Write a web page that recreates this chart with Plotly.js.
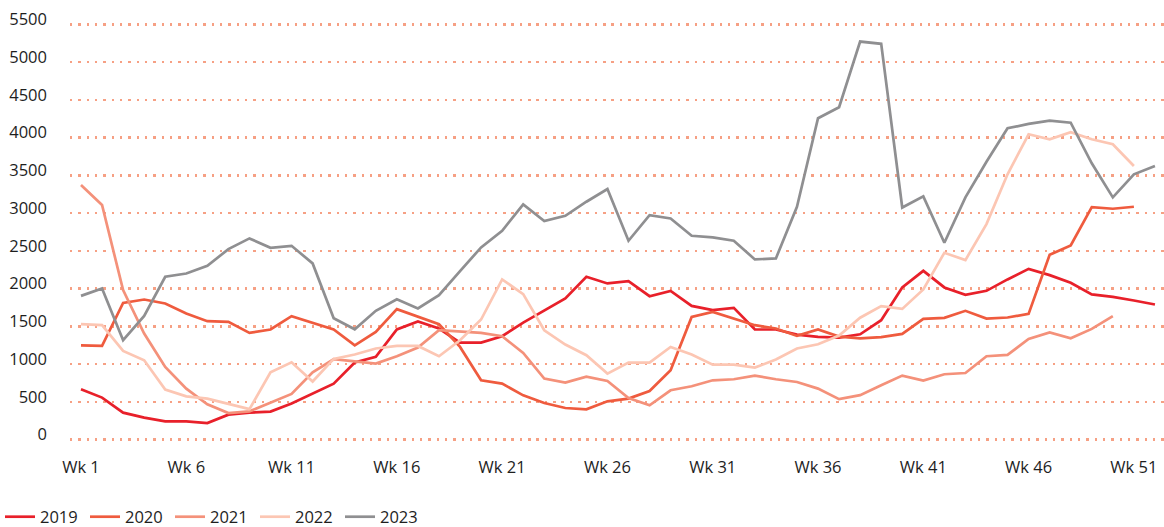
<!DOCTYPE html>
<html>
<head>
<meta charset="utf-8">
<script src="https://cdn.plot.ly/plotly-3.0.1.min.js"></script>
<style>
html,body{margin:0;padding:0;background:#fff;}
#chart{width:1164px;height:527px;}
</style>
</head>
<body>
<div id="chart"></div>
<script>
const weeks = Array.from({length: 52}, (_, i) => i + 1);
const tickWeeks = [1, 6, 11, 16, 21, 26, 31, 36, 41, 46, 51];
const tickLabels = ["Wk 1", "Wk 6", "Wk 11", "Wk 16", "Wk 21", "Wk 26", "Wk 31", "Wk 36", "Wk 41", "Wk 46", "Wk 51"];
const yTicks = [0, 500, 1000, 1500, 2000, 2500, 3000, 3500, 4000, 4500, 5000, 5500];

const s2019 = [667, 557, 358, 292, 243, 243, 220, 331, 358, 372, 480, 612, 742, 1021, 1096, 1459, 1565, 1472, 1286, 1286,
  1370, 1551, 1714, 1870, 2157, 2069, 2099, 1900, 1970, 1772, 1715, 1745, 1459, 1459, 1392, 1361, 1352, 1396, 1582, 2016,
  2236, 2016, 1918, 1971, 2122, 2262, 2179, 2077, 1923, 1891, 1843, 1790];
const s2020 = [1250, 1241, 1811, 1856, 1803, 1671, 1569, 1560, 1414, 1459, 1635, 1551, 1460, 1250, 1427, 1728, 1626, 1529, 1228, 786,
  742, 587, 485, 419, 402, 508, 544, 645, 919, 1626, 1692, 1604, 1516, 1472, 1374, 1459, 1365, 1341, 1357, 1401,
  1600, 1613, 1706, 1604, 1618, 1666, 2448, 2572, 3080, 3058, 3084];
const s2021 = [3372, 3107, 1980, 1406, 963, 676, 468, 353, 375, 486, 605, 892, 1065, 1038, 1008, 1105, 1220, 1449, 1427, 1414,
  1370, 1148, 809, 756, 835, 777, 552, 455, 654, 707, 786, 800, 848, 800, 764, 676, 536, 590, 720, 848,
  782, 866, 883, 1105, 1122, 1334, 1419, 1343, 1467, 1635];
const s2022 = [1529, 1516, 1175, 1052, 663, 574, 544, 477, 405, 892, 1025, 770, 1070, 1127, 1207, 1241, 1241, 1105, 1317, 1591,
  2122, 1927, 1449, 1260, 1118, 875, 1021, 1021, 1228, 1127, 994, 994, 955, 1061, 1207, 1264, 1380, 1615, 1768, 1732,
  1989, 2475, 2378, 2855, 3514, 4044, 3978, 4071, 3978, 3912, 3624];
const s2023 = [1904, 2002, 1317, 1639, 2157, 2201, 2302, 2523, 2665, 2541, 2567, 2334, 1608, 1462, 1706, 1860, 1737, 1913, 2232, 2546,
  2766, 3116, 2895, 2965, 3151, 3319, 2634, 2974, 2930, 2700, 2678, 2634, 2387, 2400, 3084, 4256, 4402, 5272, 5242, 3074,
  3222, 2607, 3209, 3681, 4124, 4181, 4225, 4198, 3660, 3209, 3514, 3624];

const seriesNames = ["2019", "2020", "2021", "2022", "2023"];
const seriesData = [s2019, s2020, s2021, s2022, s2023];
const seriesColors = ["#e8202a", "#ef5b3e", "#f4917a", "#fcc6b3", "#8f8f91"];

const traces = seriesData.map((vals, i) => ({
  type: "scatter",
  mode: "lines",
  name: seriesNames[i],
  x: weeks.slice(0, vals.length),
  y: vals,
  line: {color: seriesColors[i], width: 2.7},
  hoverinfo: "x+y+name"
}));

const layout = {
  width: 1164,
  height: 527,
  margin: {l: 70, r: 0, t: 13, b: 76},
  paper_bgcolor: "#ffffff",
  plot_bgcolor: "#ffffff",
  font: {family: "Open Sans, Noto Sans, sans-serif", size: 16.5, color: "#1e1e1e"},
  showlegend: true,
  legend: {
    orientation: "h",
    xref: "container",
    yref: "container",
    x: 0,
    xanchor: "left",
    y: 0.019,
    yanchor: "middle",
    font: {size: 16.5, color: "#1e1e1e"},
    itemwidth: 30,
    entrywidth: 40,
    entrywidthmode: "pixels",
    tracegroupgap: 0
  },
  xaxis: {
    range: [0.478, 52.43],
    tickmode: "array",
    tickvals: tickWeeks,
    ticktext: tickLabels,
    showgrid: false,
    zeroline: false,
    showline: false,
    ticks: "",
    ticklabelstandoff: 4,
    fixedrange: true
  },
  yaxis: {
    range: [-150, 5650],
    tickmode: "array",
    tickvals: yTicks,
    showgrid: true,
    gridcolor: "#f6a084",
    gridwidth: 2.4,
    griddash: "2.4px,5.93px",
    zeroline: false,
    showline: false,
    ticks: "",
    ticklabelstandoff: 22,
    ticklabelshift: -5,
    fixedrange: true
  }
};

Plotly.newPlot("chart", traces, layout, {displayModeBar: false, staticPlot: true});
</script>
</body>
</html>
